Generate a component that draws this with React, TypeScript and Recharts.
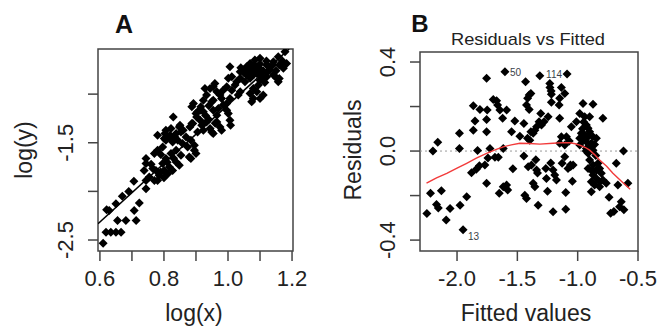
import React from 'react';
import { ScatterChart, Scatter, XAxis, YAxis, ReferenceArea, ReferenceLine } from 'recharts';

const FONT = '"Liberation Sans", Arial, Helvetica, sans-serif';
const INK = '#444';
const R = 4.5;

// ---------- Panel A : log(y) vs log(x) ----------
const aXDomain: [number, number] = [0.594, 1.203];
const aYDomain: [number, number] = [-2.613, -0.536];
const aXTicks = [0.6, 0.7, 0.8, 0.9, 1.0, 1.1, 1.2];
const aXLabels = [0.6, 0.8, 1.0, 1.2];
const aYTicks = [-2.5, -2.0, -1.5, -1.0];
const aYLabels = [-2.5, -1.5];

const aPoints: [number, number][] = [
  [0.610, -2.533], [0.619, -2.42], [0.634, -2.42], [0.650, -2.42], [0.666, -2.42],
  [0.655, -2.30], [0.681, -2.30], [0.713, -2.30],
  [0.629, -2.196], [0.650, -2.127], [0.621, -2.19], [0.707, -2.196], [0.723, -2.12],
  [0.67, -2.05], [0.69, -2.0], [0.706, -1.895],
  [0.744, -1.972], [0.744, -1.887], [0.754, -1.853], [0.770, -1.887],
  [0.738, -1.784], [0.744, -1.714], [0.744, -1.663],
  [0.765, -1.766], [0.775, -1.784], [0.785, -1.835], [0.780, -1.887],
  [0.770, -1.611], [0.780, -1.577],
  [0.796, -1.714], [0.806, -1.663], [0.801, -1.784],
  [0.812, -1.818], [0.827, -1.784], [0.817, -1.749],
  [0.796, -1.543], [0.806, -1.474], [0.780, -1.423],
  [0.822, -1.611], [0.838, -1.577], [0.853, -1.629],
  [0.838, -1.698], [0.848, -1.732],
  [0.801, -1.457], [0.817, -1.44], [0.827, -1.492],
  [0.843, -1.474], [0.858, -1.508], [0.874, -1.543],
  [0.879, -1.646], [0.884, -1.663],
  [0.806, -1.371], [0.822, -1.354], [0.838, -1.405], [0.853, -1.389],
  [0.869, -1.44], [0.884, -1.474], [0.895, -1.526],
  [0.895, -1.577], [0.9, -1.611],
  [0.848, -1.337], [0.890, -1.302], [0.905, -1.389],
  [0.79, -1.62], [0.81, -1.70], [0.83, -1.66], [0.79, -1.80], [0.76, -1.72], [0.80, -1.86],
  [1.178, -0.564], [1.157, -0.615], [1.142, -0.667], [1.1, -0.632], [1.084, -0.649],
  [1.183, -0.684], [1.173, -0.735], [1.121, -0.701], [1.131, -0.753],
  [1.069, -0.684], [1.058, -0.719], [1.048, -0.753], [1.038, -0.770], [1.006, -0.719],
  [1.079, -0.753], [1.09, -0.787], [1.1, -0.804],
  [1.058, -0.804], [1.069, -0.838], [1.053, -0.873],
  [1.038, -0.838], [1.027, -0.873], [1.022, -0.907],
  [1.110, -0.838], [1.121, -0.822],
  [1.142, -0.804], [1.152, -0.838], [1.157, -0.873],
  [1.095, -0.907], [1.079, -0.941], [1.09, -0.976],
  [1.069, -0.993], [1.079, -1.044], [1.074, -1.079],
  [1.1, -1.044], [1.110, -1.010],
  [1.038, -0.976], [1.032, -1.010],
  [1.012, -0.959], [0.996, -0.925], [0.985, -0.959],
  [1.001, -0.838], [1.012, -0.822],
  [0.959, -0.890], [0.954, -0.925], [0.944, -0.941],
  [0.928, -0.941], [0.933, -1.010], [0.923, -1.062],
  [0.965, -0.976], [0.975, -1.010], [0.980, -1.044],
  [1.006, -1.044], [0.996, -1.096], [0.985, -1.113],
  [0.954, -1.062], [0.949, -1.079],
  [0.996, -1.165], [1.001, -1.199],
  [1.006, -1.268], [1.008, -1.320],
  [0.970, -1.147], [0.954, -1.165], [0.965, -1.216],
  [0.923, -1.182], [0.913, -1.165],
  [0.892, -1.096], [0.887, -1.131],
  [0.902, -1.234], [0.913, -1.268],
  [0.918, -1.320], [0.923, -1.371],
  [0.944, -1.354], [0.949, -1.389], [0.954, -1.405],
  [0.887, -1.302], [0.881, -1.337],
  [0.829, -1.234],
  [0.85, -1.320], [0.860, -1.371],
  [0.803, -1.405], [0.819, -1.423], [0.834, -1.440],
  [0.965, -1.286], [0.975, -1.337], [0.980, -1.371],
  [0.933, -1.286],
  [1.06, -0.76], [1.07, -0.72], [1.08, -0.70], [1.09, -0.72], [1.10, -0.74], [1.11, -0.76],
  [1.12, -0.78], [1.08, -0.80], [1.10, -0.86], [1.115, -0.88], [1.05, -0.78], [1.04, -0.73],
  [1.13, -0.72], [1.14, -0.70], [1.16, -0.70], [1.17, -0.66], [1.12, -0.66], [1.10, -0.69],
  [1.07, -0.78], [1.15, -0.76], [1.16, -0.84],
  [0.905, -1.18], [0.93, -1.22], [0.94, -1.26], [0.96, -1.30], [0.90, -1.20], [0.915, -1.13], [0.94, -1.12],
];

// fitted regression line (ends of the visible segment)
const aFitLine: [number, number][] = [[0.594, -2.333], [1.191, -0.536]];

// ---------- Panel B : Residuals vs Fitted ----------
const bXDomain: [number, number] = [-2.307, -0.5];
const bYDomain: [number, number] = [-0.449, 0.445];
const bXTicks = [-2.0, -1.5, -1.0, -0.5];
const bXLabels = [-2.0, -1.5, -1.0, -0.5];
const bYTicks = [-0.4, -0.2, 0.0, 0.2, 0.4];
const bYLabels = [-0.4, 0.0, 0.4];

const bPoints: [number, number][] = [
  [-2.25, -0.28], [-2.22, -0.19], [-2.20, 0.0], [-2.16, 0.04], [-2.17, -0.24], [-2.155, -0.256],
  [-2.13, -0.178], [-2.09, -0.31], [-2.058, -0.258],
  [-1.98, 0.08], [-1.98, 0.012], [-1.975, -0.243], [-1.92, -0.205],
  [-1.88, -0.097], [-1.84, -0.082], [-1.815, -0.066],
  [-1.865, 0.094], [-1.865, 0.204], [-1.851, 0.135], [-1.83, 0.002],
  [-1.81, 0.187], [-1.769, -0.063], [-1.755, 0.327], [-1.755, 0.142], [-1.755, 0.087], [-1.755, -0.145],
  [-1.75, 0.184], [-1.744, -0.031], [-1.727, 0.012], [-1.70, 0.232], [-1.686, -0.028], [-1.672, 0.226],
  [-1.664, 0.207], [-1.658, -0.028], [-1.65, -0.19], [-1.645, 0.184], [-1.622, 0.147], [-1.617, 0.012],
  [-1.617, -0.16], [-1.589, 0.184], [-1.589, -0.153], [-1.58, -0.175], [-1.548, 0.087], [-1.537, -0.08],
  [-1.521, 0.135], [-1.479, 0.067], [-1.446, 0.124], [-1.446, -0.022], [-1.438, -0.198], [-1.432, 0.311],
  [-1.424, 0.207], [-1.424, -0.213], [-1.415, 0.237], [-1.41, -0.071], [-1.402, 0.252], [-1.402, 0.187],
  [-1.397, 0.049], [-1.388, 0.259], [-1.383, -0.063], [-1.369, 0.08], [-1.369, -0.145], [-1.355, 0.094],
  [-1.355, -0.16], [-1.341, 0.109], [-1.341, -0.085], [-1.328, -0.243], [-1.32, 0.132], [-1.314, 0.338],
  [-1.30, 0.117], [-1.264, -0.078], [-1.259, -0.123], [-1.25, -0.181], [-1.245, 0.154], [-1.231, 0.304],
  [-1.23, 0.285], [-1.22, 0.27], [-1.218, 0.255], [-1.218, 0.219], [-1.204, -0.085], [-1.204, -0.273],
  [-1.19, -0.108], [-1.176, -0.13], [-1.149, 0.237], [-1.149, 0.147], [-1.149, 0.035], [-1.135, 0.285],
  [-1.135, 0.064], [-1.129, -0.055], [-1.107, 0.259], [-1.107, 0.027], [-1.107, -0.026], [-1.099, -0.262],
  [-1.099, -0.186], [-1.093, 0.064], [-1.08, -0.078], [-1.07, 0.045], [-1.06, -0.063], [-1.052, 0.109],
  [-1.038, -0.063], [-1.011, 0.132],
  [-0.983, 0.169], [-0.983, 0.057], [-0.983, 0.027], [-0.97, 0.08], [-0.956, 0.214], [-0.956, 0.049],
  [-0.942, 0.154], [-0.942, 0.072], [-0.928, 0.117], [-0.928, 0.042], [-0.928, 0.012], [-0.914, 0.102],
  [-0.914, 0.064], [-0.914, -0.01], [-0.914, -0.078], [-0.901, 0.154], [-0.901, 0.087], [-0.901, -0.04],
  [-0.887, 0.035], [-0.887, -0.138], [-0.887, -0.183], [-0.873, 0.21], [-0.873, 0.064], [-0.873, 0.004],
  [-0.873, -0.063], [-0.873, -0.108], [-0.86, -0.153], [-0.845, 0.057], [-0.845, -0.085], [-0.845, -0.123],
  [-0.831, -0.055], [-0.818, -0.078], [-0.818, -0.138], [-0.818, -0.16], [-0.804, -0.10], [-0.791, 0.147],
  [-0.791, -0.13], [-0.763, -0.145], [-0.74, -0.208], [-0.727, -0.279], [-0.70, -0.271], [-0.68, -0.055],
  [-0.667, -0.153], [-0.653, -0.25], [-0.639, -0.228], [-0.62, 0.0], [-0.617, -0.264], [-0.584, -0.145],
  [-0.96, 0.10], [-0.95, 0.13], [-0.93, 0.0], [-0.90, 0.02], [-0.86, 0.03], [-0.88, -0.09], [-0.85, -0.02],
  [-1.223, -0.054], [-1.347, -0.039], [-1.058, -0.069], [-1.044, -0.136], [-1.333, -0.099],
  [-1.154, 0.207], [-1.306, 0.169], [-1.279, 0.132], [-1.388, 0.087], [-1.416, 0.057],
];

const bOutlierX = [-1.603, -1.088, -1.95];
const bOutlierY = [0.356, 0.346, -0.354];
const bOutlierIds = ['50', '114', '13'];

const bSmooth: [number, number][] = [
  [-2.253, -0.144], [-2.17, -0.12], [-2.085, -0.10], [-2.0, -0.077], [-1.92, -0.055], [-1.84, -0.032],
  [-1.755, -0.01], [-1.68, 0.006], [-1.617, 0.019], [-1.55, 0.028], [-1.479, 0.035], [-1.40, 0.034],
  [-1.314, 0.031], [-1.204, 0.035], [-1.12, 0.038], [-1.066, 0.037], [-1.02, 0.033], [-0.983, 0.027],
  [-0.94, 0.017], [-0.901, 0.004], [-0.86, -0.016], [-0.818, -0.04], [-0.76, -0.068], [-0.708, -0.1],
  [-0.64, -0.135], [-0.565, -0.172],
];

// ---------- helpers ----------
const toXY = (arr: [number, number][]) => arr.map(([x, y]) => ({ x, y }));
const has = (list: number[], v: number) => list.some((l) => Math.abs(l - v) < 1e-9);

const diamondPts = (cx: number, cy: number) =>
  `${cx},${cy - R} ${cx + R},${cy} ${cx},${cy + R} ${cx - R},${cy}`;

const Diamond = (props: any) => {
  const { cx, cy } = props;
  if (cx == null || cy == null || isNaN(cx) || isNaN(cy)) return <g />;
  return <polygon points={diamondPts(cx, cy)} fill="#000" />;
};

const Nothing = () => <g />;

const OutlierShape = (props: any) => {
  const { cx, cy, payload } = props;
  if (cx == null || cy == null) return <g />;
  const left = payload.side === 'left';
  return (
    <g>
      <polygon points={diamondPts(cx, cy)} fill="#000" />
      <text
        x={left ? cx - 5 : cx + 5}
        y={cy + payload.dy}
        textAnchor={left ? 'end' : 'start'}
        fontSize={10}
        fontFamily={FONT}
        fill="#3a3f4a"
      >
        {payload.label}
      </text>
    </g>
  );
};

const makeXTick = (labels: number[]) => (props: any) => {
  const { x, y, payload } = props;
  if (!has(labels, payload.value)) return <g />;
  return (
    <text x={x} y={y + 25} textAnchor="middle" fontSize={22} fontFamily={FONT} fill="#222">
      {Number(payload.value).toFixed(1)}
    </text>
  );
};

const makeYTick = (labels: number[]) => (props: any) => {
  const { x, y, payload } = props;
  if (!has(labels, payload.value)) return <g />;
  const bx = x - 15;
  return (
    <text
      x={bx}
      y={y}
      transform={`rotate(-90 ${bx} ${y})`}
      textAnchor="middle"
      fontSize={22}
      fontFamily={FONT}
      fill="#222"
    >
      {Number(payload.value).toFixed(1)}
    </text>
  );
};

const axisCommon = {
  type: 'number' as const,
  allowDataOverflow: true,
  axisLine: false,
  tickLine: { stroke: INK, strokeWidth: 1.5 },
  tickSize: 10,
  tickMargin: 0,
  interval: 0 as const,
};

export default function App() {
  const aData = toXY(aPoints);
  const aLine = toXY(aFitLine);
  const bData = toXY(bPoints);
  const bLine = toXY(bSmooth);
  const bOut = bOutlierX.map((x, i) => ({
    x,
    y: bOutlierY[i],
    label: bOutlierIds[i],
    side: bOutlierIds[i] === '114' ? 'left' : 'right',
    dy: bOutlierIds[i] === '13' ? 10 : 4,
  }));

  return (
    <div
      style={{
        position: 'absolute',
        left: 0,
        top: 0,
        width: 666,
        height: 326,
        background: '#fff',
        overflow: 'hidden',
      }}
    >
      <div style={{ position: 'absolute', left: 0, top: 0 }}>
        <ScatterChart width={333} height={326} margin={{ top: 49, right: 40, bottom: 0, left: 0 }}>
          <XAxis {...axisCommon} dataKey="x" domain={aXDomain} ticks={aXTicks} height={75} tick={makeXTick(aXLabels)} />
          <YAxis {...axisCommon} dataKey="y" domain={aYDomain} ticks={aYTicks} width={98} tick={makeYTick(aYLabels)} />
          <Scatter data={aData} shape={Diamond} isAnimationActive={false} />
          <Scatter
            data={aLine}
            shape={Nothing}
            line={{ stroke: '#000', strokeWidth: 1.6 }}
            isAnimationActive={false}
          />
          <ReferenceArea
            x1={aXDomain[0]}
            x2={aXDomain[1]}
            y1={aYDomain[0]}
            y2={aYDomain[1]}
            fill="none"
            fillOpacity={0}
            stroke={INK}
            strokeWidth={1.5}
            ifOverflow="visible"
          />
        </ScatterChart>
      </div>

      <div style={{ position: 'absolute', left: 333, top: 0 }}>
        <ScatterChart width={333} height={326} margin={{ top: 52, right: 28, bottom: 0, left: 0 }}>
          <XAxis {...axisCommon} dataKey="x" domain={bXDomain} ticks={bXTicks} height={75} tick={makeXTick(bXLabels)} />
          <YAxis {...axisCommon} dataKey="y" domain={bYDomain} ticks={bYTicks} width={87} tick={makeYTick(bYLabels)} />
          <ReferenceLine y={0} stroke="#9a9a9a" strokeDasharray="2 3" strokeWidth={1} ifOverflow="visible" />
          <Scatter data={bData} shape={Diamond} isAnimationActive={false} />
          <Scatter data={bOut} shape={OutlierShape} isAnimationActive={false} />
          <Scatter
            data={bLine}
            shape={Nothing}
            line={{ stroke: '#f23a3a', strokeWidth: 1.4 }}
            isAnimationActive={false}
          />
          <ReferenceArea
            x1={bXDomain[0]}
            x2={bXDomain[1]}
            y1={bYDomain[0]}
            y2={bYDomain[1]}
            fill="none"
            fillOpacity={0}
            stroke={INK}
            strokeWidth={1.5}
            ifOverflow="visible"
          />
        </ScatterChart>
      </div>

      <svg
        width={666}
        height={326}
        style={{ position: 'absolute', left: 0, top: 0, pointerEvents: 'none' }}
        fontFamily={FONT}
      >
        <text x={124} y={33} textAnchor="middle" fontSize={25} fontWeight="bold" fill="#111">A</text>
        <text x={420} y={32} textAnchor="middle" fontSize={24} fontWeight="bold" fill="#111">B</text>
        <text x={528} y={45} textAnchor="middle" fontSize={17} fill="#222" textLength={154} lengthAdjust="spacingAndGlyphs">
          Residuals vs Fitted
        </text>
        <text x={194} y={321} textAnchor="middle" fontSize={23} fill="#222">log(x)</text>
        <text x={32} y={150} textAnchor="middle" fontSize={23} fill="#222" transform="rotate(-90 32 150)">log(y)</text>
        <text x={526} y={321} textAnchor="middle" fontSize={23} fill="#222">Fitted values</text>
        <text x={361} y={150} textAnchor="middle" fontSize={23} fill="#222" transform="rotate(-90 361 150)">Residuals</text>
      </svg>
    </div>
  );
}
